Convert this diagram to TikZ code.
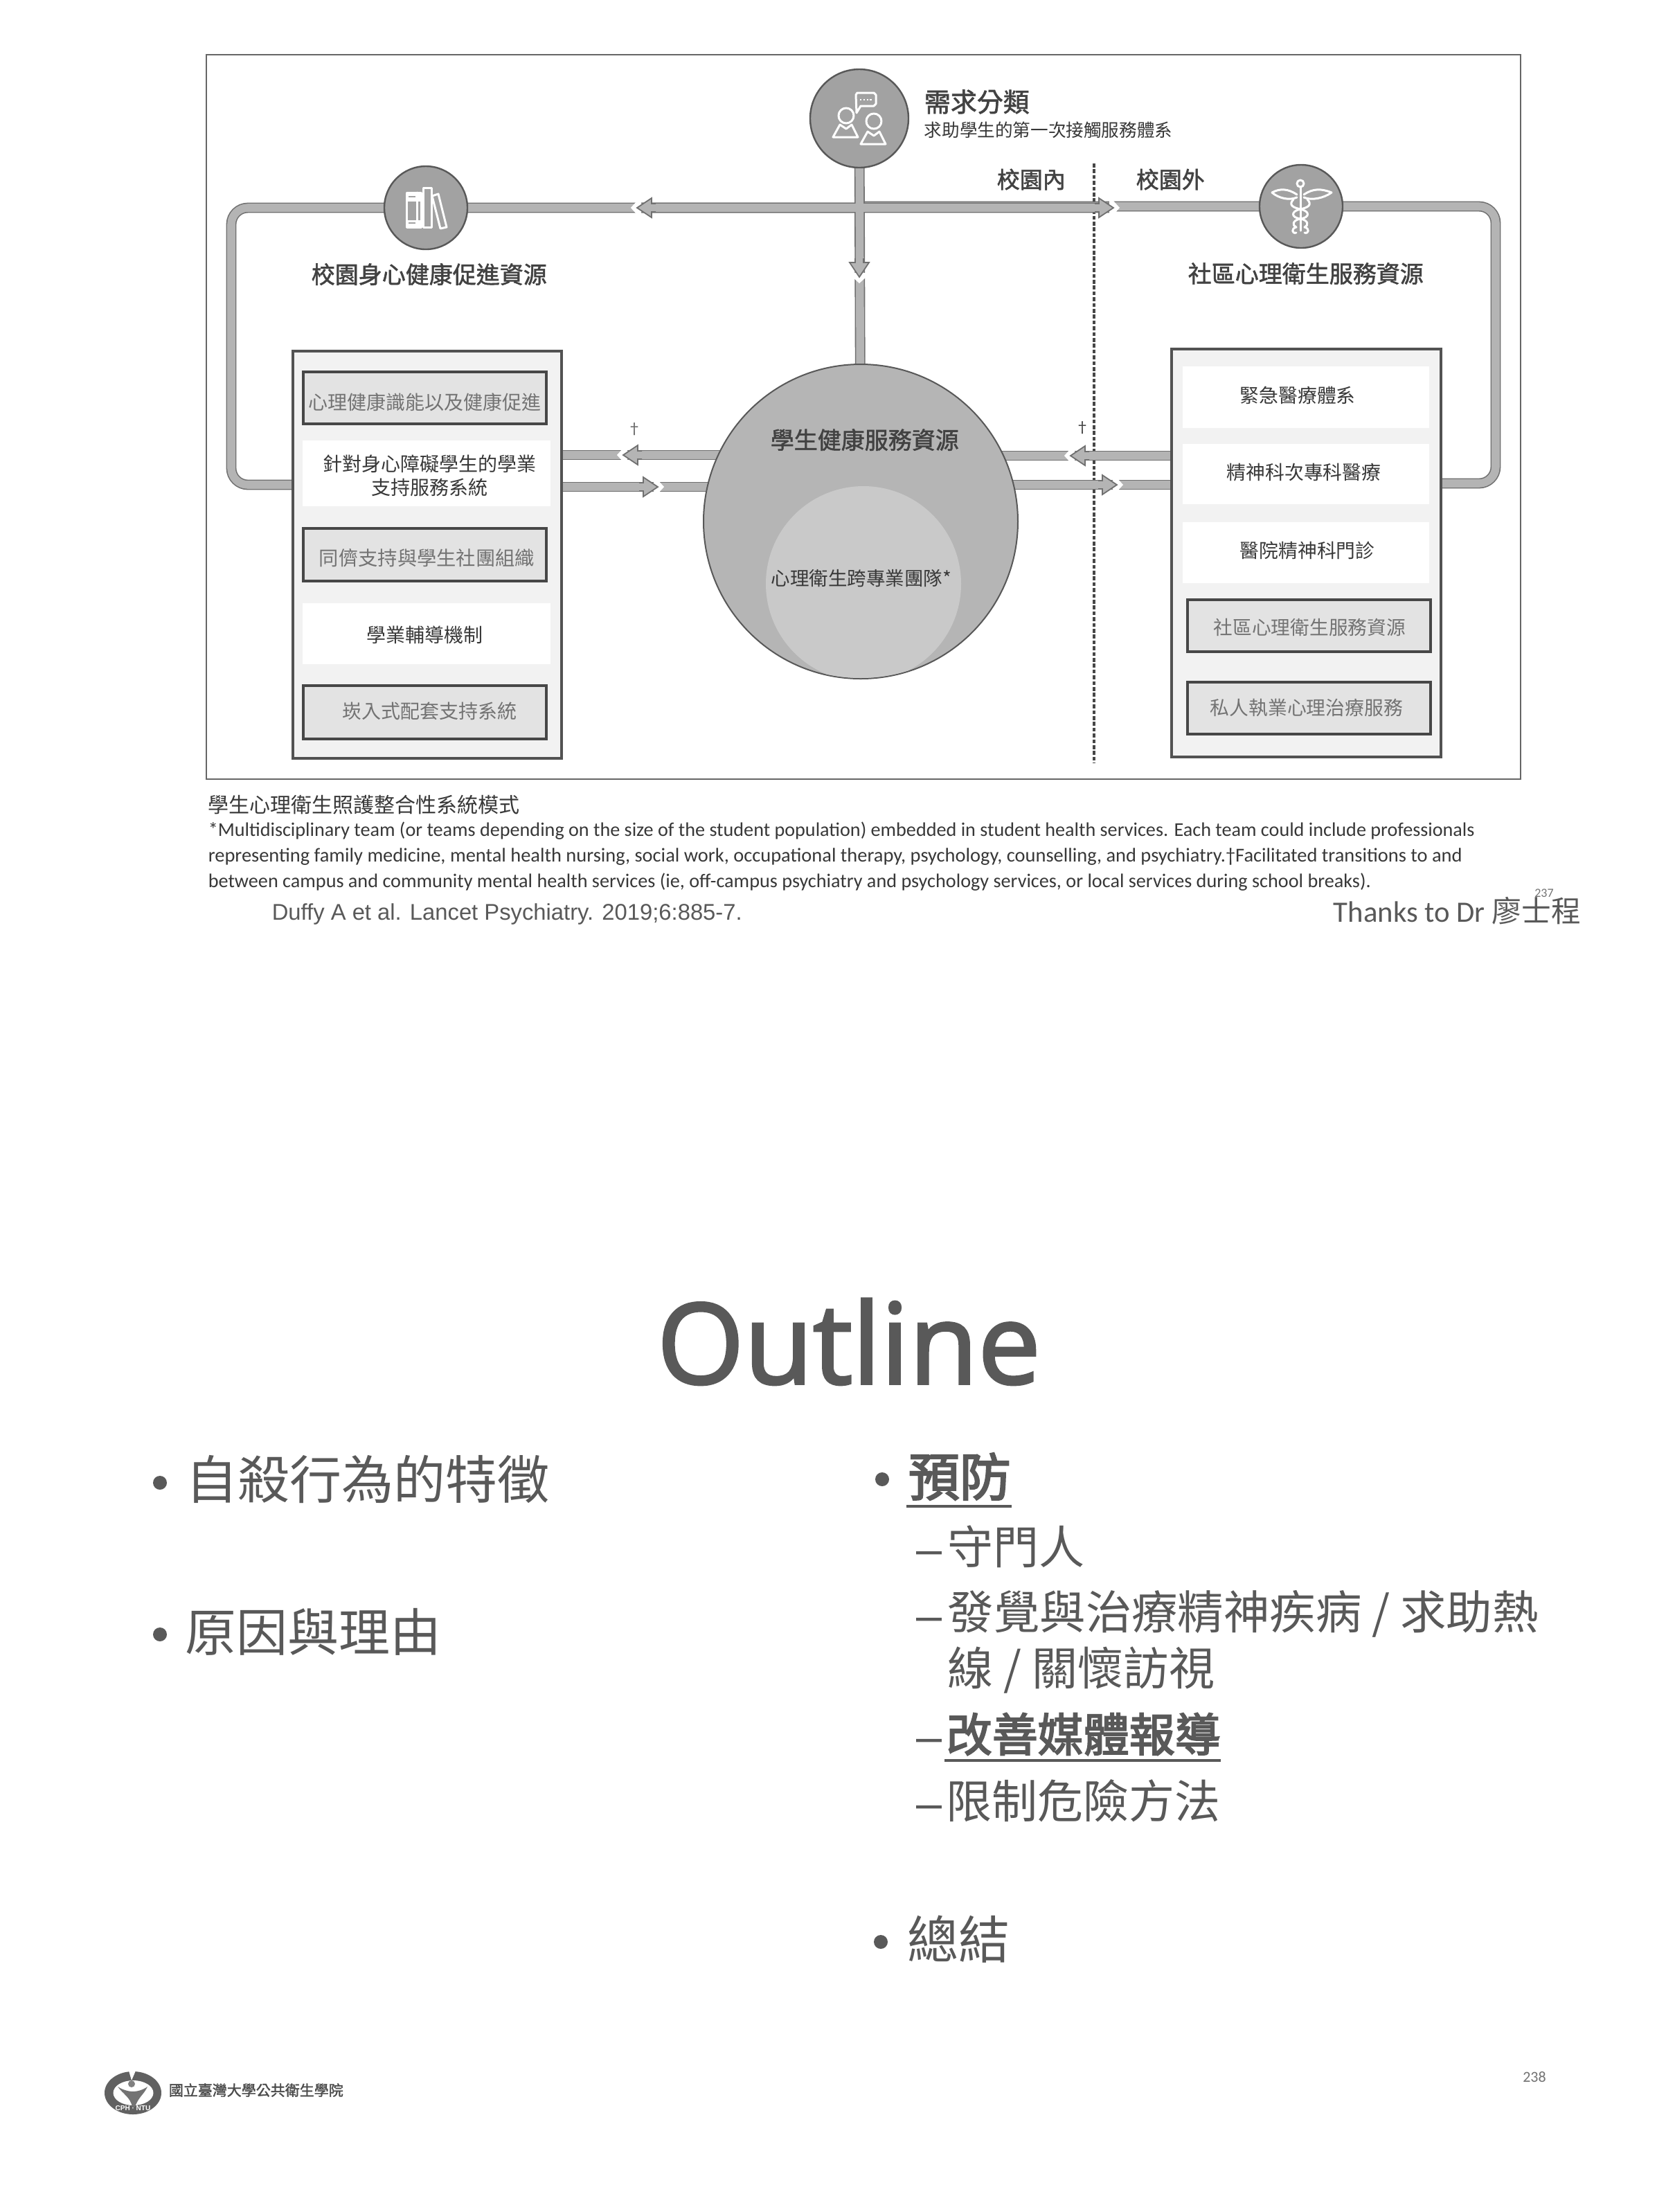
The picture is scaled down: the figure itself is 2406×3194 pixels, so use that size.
\documentclass[tikz,border=0pt]{standalone}
\usepackage{fontspec}
\usepackage{graphicx}
\usetikzlibrary{backgrounds}
\setmainfont{Noto Sans CJK TC}
\newfontfamily\lat{Carlito}
\newfontfamily\opn[FakeBold=2.2]{Open Sans}
\newfontfamily\lib{Liberation Sans}
\newfontfamily\medf[FakeBold=1.6]{Noto Sans CJK TC}
\newfontfamily\strongf[FakeBold=3]{Noto Sans CJK TC}
\definecolor{barfill}{HTML}{B4B4B4}
\definecolor{barline}{HTML}{707070}
\definecolor{disc}{HTML}{A2A2A2}
\definecolor{discline}{HTML}{585858}
\definecolor{slidegrey}{HTML}{595959}
\newcommand\px[1]{\fontsize{\fpeval{#1*0.25}}{\fpeval{#1*0.3}}\selectfont}
\newcommand\fitw[2]{\resizebox{\fpeval{#1*0.25}pt}{!}{#2}}
\newcommand\nd[7]{\node[#6,inner sep=0pt,minimum width=\fpeval{(#4-#2)*0.25}pt,minimum height=\fpeval{(#5-#3)*0.25}pt] (#1) at (\fpeval{(#2+#4)/2},\fpeval{(#3+#5)/2}) {#7};}
\newcommand\hd[2]{\begin{scope}[shift={(#1)},rotate=#2]
 \fill[white] (-6,-10)--(0,-10)--(9,0)--(0,10)--(-6,10)--cycle;
 \fill[barfill] (0,0)--(-21,-14)--(-21,-6)--(-27,-6)--(-27,6)--(-21,6)--(-21,14)--cycle;
 \draw[barline,line width=0.45pt,line join=miter] (-27,-6)--(-21,-6)--(-21,-14)--(0,0)--(-21,14)--(-21,6)--(-27,6);
\end{scope}}
\tikzset{
 lab/.style={inner sep=0pt,font=\px{#1},text=black!78},
 head/.style={inner sep=0pt,font={\px{#1}\medf},text=black!74},
 soft/.style={inner sep=0pt,font=\px{#1},text=black!55},
 slide/.style={inner sep=0pt,font=\px{#1},text=slidegrey},
 slideb/.style={inner sep=0pt,font={\px{#1}\strongf},text=slidegrey},
 bar/.style={draw=barline,line width=0.4pt,double=barfill,double distance=2.9pt,line join=round},
 outerbox/.style={draw=black!68,line width=0.8pt,fill=black!5},
 strip/.style={fill=white},
 greybox/.style={draw=black!72,line width=1.1pt,fill=black!11},
 disk/.style={circle,draw=discline,line width=0.6pt,fill=disc,inner sep=0pt,minimum size=#1*0.25pt},
 bigdisk/.style={circle,draw=discline,line width=0.5pt,fill=black!29,inner sep=0pt,minimum size=#1*0.25pt},
 icon/.style={draw=white,line width=0.75pt,line join=round,line cap=round},
 dotb/.style={circle,fill=slidegrey,inner sep=0pt,minimum size=5pt},
}
\begin{document}
\begin{tikzpicture}[x=0.25pt,y=-0.25pt]
\useasboundingbox (0,0) rectangle (2406,3194);
% named points
\coordinate (cross) at (1241,300);
\coordinate (tipL) at (920,300);
\coordinate (tipR) at (1608,300);
\coordinate (tipD) at (1241,400);
\coordinate (lc1) at (334,300);
\coordinate (lc2) at (334,700);
\coordinate (rc1) at (2160,298);
\coordinate (rc2) at (2160,698);
\coordinate (tipLa) at (900,657);
\coordinate (tipLb) at (950,703);
\coordinate (tipRa) at (1546,658);
\coordinate (tipRb) at (1613,700);
\coordinate (dashT) at (1580,236);
\coordinate (dashB) at (1580,1102);
% nodes
\nd{frame}{298}{79}{2196}{1125}{draw=black!60,line width=0.4pt}{}
\node[disk=142] (triage) at (1241,171) {};
\node[disk=120] (campus) at (615,300) {};
\node[disk=120] (community) at (1879,298) {};
\node[bigdisk=454] (center) at (1243,753) {};
\begin{scope}
 \clip (1243,753) circle [radius=226];
 \fill[black!21] (1247,843) circle [radius=141];
\end{scope}
\nd{leftbox}{423}{507}{811}{1095}{outerbox}{}
\nd{rightbox}{1692}{504}{2081}{1093}{outerbox}{}
% connectors, beneath the nodes
\begin{pgfonlayer}{background}
 \fill[white] (0,0) rectangle (2406,3194);
 \draw[black!72,line width=0.8pt,dash pattern=on 1.4pt off 0.7pt] (dashT) -- (dashB);
 \draw[bar,rounded corners=6pt] (cross) -- (lc1) -- (lc2) -- (leftbox.west |- lc2);
 \draw[bar,rounded corners=6pt] (cross |- rc1) -- (rc1) -- (rc2) -- (rightbox.east |- rc2);
 \draw[bar] (triage) -- (center) (tipL) -- (tipR);
 \draw[bar] (leftbox.east |- tipLa) -- (center.center |- tipLa);
 \draw[bar] (leftbox.east |- tipLb) -- (center.center |- tipLb);
 \draw[bar] (rightbox.west |- tipRa) -- (center.center |- tipRa);
 \draw[bar] (rightbox.west |- tipRb) -- (center.center |- tipRb);
 \hd{tipL}{180}
 \hd{tipR}{0}
 \hd{tipD}{-90}
 \hd{tipLa}{180}
 \hd{tipLb}{0}
 \hd{tipRa}{180}
 \hd{tipRb}{0}
\end{pgfonlayer}
% icon: people and speech bubble
\draw[icon] (1222,167) circle [radius=11];
\draw[icon] (1203,198) -- (1213,180) -- (1222,186) -- (1230,180) -- (1239,198) -- cycle;
\fill[disc] (1252,175) circle [radius=14];
\fill[disc] (1243,208) -- (1253,190) -- (1270,190) -- (1279,208) -- cycle;
\draw[icon] (1262,175) circle [radius=11];
\draw[icon] (1243,208) -- (1253,190) -- (1262,196) -- (1270,190) -- (1279,208) -- cycle;
\draw[icon] (1238,134) -- (1262,134) -- (1265,137) -- (1265,150) -- (1262,153) -- (1243,153) -- (1237,163) -- (1236,137) -- cycle;
\draw[white,line width=0.6pt,dash pattern=on 0.6pt off 0.6pt] (1242,144) -- (1260,144);
% icon: books
\fill[white] (587,278) rectangle (611,291);
\fill[white] (587,318) rectangle (611,328);
\draw[icon] (587,278) rectangle (608,328);
\draw[icon] (602,278) -- (602,328);
\draw[icon] (611,271) rectangle (623,328);
\draw[icon] (624,283) -- (633,280) -- (645,328) -- (636,330) -- cycle;
\draw[disc,line width=0.3pt] (590,284) -- (600,284) (590,322) -- (600,322);
% icon: caduceus
\draw[icon] (1878,265) circle [radius=5];
\draw[icon] (1878,270) -- (1878,333);
\draw[icon] (1873,281) .. controls (1860,272) and (1848,272) .. (1837,278) .. controls (1846,286) and (1862,290) .. (1873,285);
\draw[icon] (1883,281) .. controls (1896,272) and (1908,272) .. (1923,278) .. controls (1912,286) and (1894,290) .. (1883,285);
\draw[icon] (1868,288) .. controls (1860,296) and (1868,300) .. (1878,302) .. controls (1892,305) and (1892,314) .. (1878,316) .. controls (1866,318) and (1866,326) .. (1872,328) .. controls (1864,330) and (1866,338) .. (1872,336);
\draw[icon] (1888,288) .. controls (1896,296) and (1888,300) .. (1878,302) .. controls (1864,305) and (1864,314) .. (1878,316) .. controls (1890,318) and (1890,326) .. (1884,328) .. controls (1892,330) and (1890,338) .. (1884,336);
% top labels
\node[head=38,anchor=west] (needs) at (1334,147) {需求分類};
\node[lab=25.6,anchor=west] (needsub) at (1334,188) {求助學生的第一次接觸服務體系};
\node[head=33,anchor=west] (oncampus) at (1439,259) {校園內};
\node[head=33,anchor=west] (offcampus) at (1640,259) {校園外};
\node[head=34,anchor=west] (campuslab) at (449,396) {校園身心健康促進資源};
\node[head=34,anchor=west] (commlab) at (1715,395) {社區心理衛生服務資源};
\node[lab=22,text=black!60] (dagL) at (916,620) {†};
\node[lab=22,text=black!75] (dagR) at (1563,618) {†};
% left box
\nd{l1}{438}{537}{789}{612}{greybox}{}
\node[soft=28,anchor=west] (l1t) at (445,581) {心理健康識能以及健康促進};
\nd{l2}{437}{636}{795}{731}{strip}{}
\node[lab=28,align=center] (l2t) at (620,687) {針對身心障礙學生的學業\\支持服務系統};
\nd{l3}{438}{763}{789}{839}{greybox}{}
\node[soft=28.3,anchor=west] (l3t) at (460,806) {同儕支持與學生社團組織};
\nd{l4}{437}{871}{795}{959}{strip}{}
\node[lab=28,anchor=west] (l4t) at (529,917) {學業輔導機制};
\nd{l5}{438}{990}{789}{1067}{greybox}{}
\node[soft=28,anchor=west] (l5t) at (494,1027) {崁入式配套支持系統};
% right box
\nd{r1}{1708}{529}{2064}{618}{strip}{}
\node[lab=27.8,anchor=west] (r1t) at (1790,571) {緊急醫療體系};
\nd{r2}{1708}{641}{2064}{728}{strip}{}
\node[lab=27.8,anchor=west] (r2t) at (1771,682) {精神科次專科醫療};
\nd{r3}{1708}{754}{2064}{842}{strip}{}
\node[lab=27.8,anchor=west] (r3t) at (1790,795) {醫院精神科門診};
\nd{r4}{1715}{866}{2066}{941}{greybox}{}
\node[soft=27.7,anchor=west] (r4t) at (1752,906) {社區心理衛生服務資源};
\nd{r5}{1715}{985}{2066}{1060}{greybox}{}
\node[soft=27.8,anchor=west] (r5t) at (1747,1022) {私人執業心理治療服務};
% centre labels
\node[head=34,anchor=west] (centert) at (1112,635) {學生健康服務資源};
\node[lab=27.5,anchor=west] (innert) at (1113,835) {心理衛生跨專業團隊*};
% caption
\node[lab=30,anchor=west] (cap) at (300,1162) {學生心理衛生照護整合性系統模式};
\node[lab=34,anchor=west] (note1) at (300,1200) {\fitw{1829}{\lat *Multidisciplinary team (or teams depending on the size of the student population) embedded in student health services. Each team could include professionals}};
\node[lab=34,anchor=west] (note2) at (300,1237) {\fitw{1811}{\lat representing family medicine, mental health nursing, social work, occupational therapy, psychology, counselling, and psychiatry.†Facilitated transitions to and}};
\node[lab=34,anchor=west] (note3) at (300,1274) {\fitw{1679}{\lat between campus and community mental health services (ie, off-campus psychiatry and psychology services, or local services during school breaks).}};
\node[slide=34,anchor=west] (duffy) at (392,1320) {\fitw{679}{\lib Duffy A et al. Lancet Psychiatry. 2019;6:885-7.}};
\node[slide=38,anchor=west] (thanks) at (1925,1315) {\fitw{357}{{\lat Thanks to Dr }廖士程}};
\node[soft=18,anchor=center] (p237) at (2230,1290) {\lat 237};
% lower slide
\node[slide=100,anchor=base west] (outline) at (948,1998) {\fitw{554}{\opn\fontsize{40}{48}\selectfont Outline}};
\node[dotb] (b1) at (231,2141) {};
\node[slide=75,anchor=west] (i1) at (268,2136) {自殺行為的特徵};
\node[dotb] (b2) at (231,2360) {};
\node[slide=74,anchor=west] (i2) at (267,2356) {原因與理由};
\node[dotb] (b3) at (1274,2136) {};
\node[slideb=74,anchor=west] (i3) at (1311,2132) {預防};
\draw[slidegrey,line width=1pt] (1309,2175) -- (1461,2175);
\node[slide=66,anchor=base] (d1) at (1342,2259) {\fitw{37}{\lib –}};
\node[slide=66,anchor=west] (s1) at (1368,2233) {守門人};
\node[slide=66,anchor=base] (d2) at (1342,2355) {\fitw{37}{\lib –}};
\node[slide=66,anchor=west] (s2) at (1368,2330) {\fitw{853}{發覺與治療精神疾病 / 求助熱}};
\node[slide=66,anchor=west] (s2b) at (1368,2412) {線 / 關懷訪視};
\node[slide=66,anchor=base] (d3) at (1342,2530) {\fitw{37}{\lib –}};
\node[slideb=66,anchor=west] (s3) at (1366,2504) {改善媒體報導};
\draw[slidegrey,line width=1pt] (1364,2542) -- (1763,2542);
\node[slide=66,anchor=base] (d4) at (1342,2626) {\fitw{37}{\lib –}};
\node[slide=66,anchor=west] (s4) at (1366,2600) {限制危險方法};
\node[dotb] (b4) at (1272,2804) {};
\node[slide=74,anchor=west] (i4) at (1310,2800) {總結};
\node[soft=22] (p238) at (2216,2999) {\lat 238};
% logo
\fill[black!62] (192,3022) ellipse [x radius=41,y radius=31];
\fill[white] (192.5,3022) ellipse [x radius=29,y radius=18];
\fill[white] (186,2990) -- (196,2990) -- (190,3004) -- cycle;
\fill[black!50] (190,3009) circle [radius=5];
\fill[black!55] (170,3013) .. controls (178,3018) and (186,3020) .. (192,3020) .. controls (198,3020) and (206,3018) .. (213,3013) .. controls (208,3024) and (200,3028) .. (195,3042) -- (191,3042) .. controls (188,3028) and (178,3024) .. (170,3013) -- cycle;
\node[inner sep=0pt,font={\px{10}\bfseries},text=white] (logot) at (192,3044) {\lib CPH · NTU};
\node[lab=21,anchor=west,font={\px{21}\medf},text=black!70] (school) at (243,3018) {國立臺灣大學公共衛生學院};
\end{tikzpicture}
\end{document}
